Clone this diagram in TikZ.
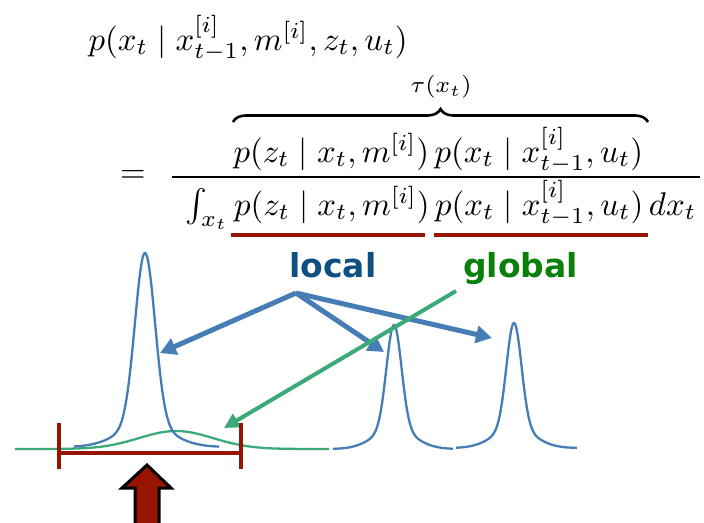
\documentclass[tikz,border=0pt]{standalone}
\usepackage{amsmath}
\usepackage{fontspec}
\newfontfamily\labelfont{DejaVu Sans}
\usetikzlibrary{arrows.meta,decorations.pathreplacing}
\definecolor{curveblue}{RGB}{70,125,180}
\definecolor{localblue}{RGB}{15,80,130}
\definecolor{globalgreen}{RGB}{10,128,10}
\definecolor{curvegreen}{RGB}{60,170,120}
\definecolor{darkred}{RGB}{150,20,0}
\begin{document}
\begin{tikzpicture}[x=1pt,y=-1pt,
  mathtext/.style={anchor=base west, inner sep=0pt, scale=3.28},
  labeltext/.style={anchor=base west, inner sep=0pt, font=\labelfont\bfseries\fontsize{33}{40}\selectfont},
  bluearrow/.style={draw=curveblue, line width=5pt, -{Triangle[length=16pt,width=17pt]}},
  greenarrow/.style={draw=curvegreen, line width=4pt, -{Triangle[length=15pt,width=15pt]}},
  peak/.style={draw=curveblue, line width=2.3pt},
  redline/.style={draw=darkred, line width=4pt}]
\useasboundingbox (0,0) rectangle (704,522);
% formula
\node[mathtext] (line1) at (88,50) {$p(x_t \mid x^{[i]}_{t-1}, m^{[i]}, z_t, u_t)$};
\node[mathtext] (num) at (233,162) {$p(z_t \mid x_t, m^{[i]})\, p(x_t \mid x^{[i]}_{t-1}, u_t)$};
\node[mathtext] (den) at (185,215) {$\int_{x_t} p(z_t \mid x_t, m^{[i]})\, p(x_t \mid x^{[i]}_{t-1}, u_t)\, dx_t$};
\node[inner sep=0pt, scale=3.28] (eq) at (133,176) {$=$};
\coordinate (barL) at (172,177);
\coordinate (barR) at (700,177);
\draw[line width=1.4pt] (barL) -- (barR);
\coordinate (braceL) at (233,122);
\coordinate (braceR) at (648,122);
\draw[line width=2.6pt, decorate, decoration={brace, amplitude=13pt}] (braceL) -- (braceR);
\node[inner sep=0pt, scale=3.28] (tau) at (441,87) {$\scriptstyle \tau(x_t)$};
% underlines
\coordinate (u1L) at (231,235); \coordinate (u1R) at (425,235);
\coordinate (u2L) at (434,235); \coordinate (u2R) at (648,235);
\draw[redline] (u1L) -- (u1R);
\draw[redline] (u2L) -- (u2R);
% labels
\node[labeltext, text=localblue] (local) at (289,277) {local};
\node[labeltext, text=globalgreen] (global) at (463,277) {global};
% curves
\draw[curvegreen, line width=2.3pt] plot[domain=15:329, samples=120]
  (\x, {449 - 18*exp(-((\x-176)/37)^2/2)});
\draw[peak] plot[domain=74:219, samples=200]
  (\x, {447 - 172*exp(-((\x-145)/10)^2/2) - 22*exp(-((\x-145)/26)^2/2)});
\draw[peak] plot[domain=333:453, samples=200]
  (\x, {449 - 104*exp(-((\x-394)/7.5)^2/2) - 20*exp(-((\x-394)/20)^2/2)});
\draw[peak] plot[domain=456:577, samples=200]
  (\x, {448 - 105*exp(-((\x-514)/7.5)^2/2) - 20*exp(-((\x-514)/20)^2/2)});
% arrows
\coordinate (src) at (296,293);
\coordinate (t1) at (160,353);
\coordinate (t2) at (384,352);
\coordinate (t3) at (492,338);
\draw[bluearrow] (src) -- (t1);
\draw[bluearrow] (src) -- (t2);
\draw[bluearrow] (src) -- (t3);
\coordinate (gsrc) at (456,291);
\coordinate (gdst) at (224,428);
\draw[greenarrow] (gsrc) -- (gdst);
% red interval
\coordinate (rL) at (59,453); \coordinate (rR) at (241,453);
\draw[redline] (rL) -- (rR);
\draw[redline] (59,423) -- (59,469);
\draw[redline] (241,423) -- (241,469);
% block arrow
\draw[fill=darkred, draw=black, line width=3pt, line join=miter]
  (147,465) -- (171,488) -- (159,488) -- (159,530) -- (135,530) -- (135,488) -- (122,488) -- cycle;
\end{tikzpicture}
\end{document}
